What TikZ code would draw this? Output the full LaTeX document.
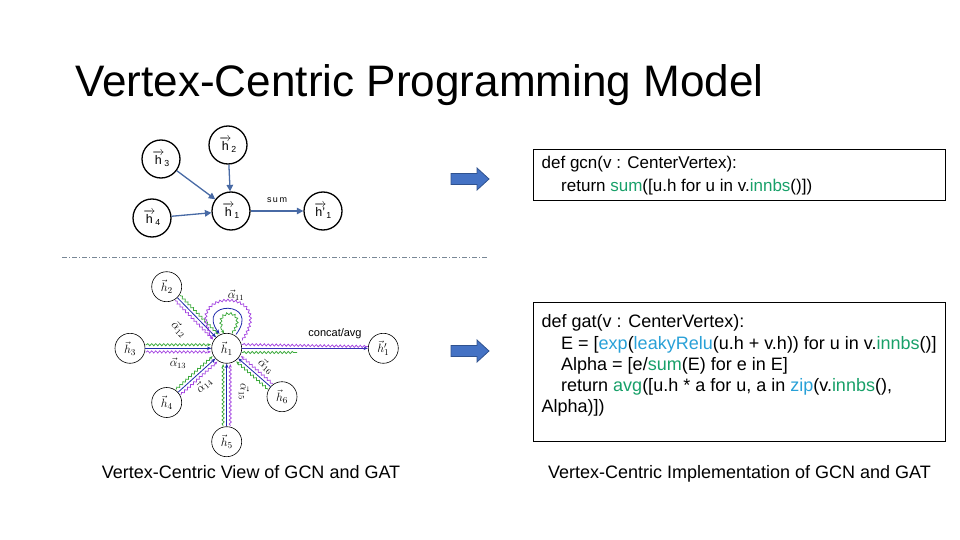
\documentclass[tikz,border=0pt]{standalone}
\usepackage{amsmath}
\usepackage[no-math]{fontspec}
\setmainfont{Liberation Sans}
\usetikzlibrary{arrows.meta,calc,decorations.pathmorphing}
\definecolor{edgeblue}{RGB}{72,106,165}
\definecolor{arrowfill}{RGB}{68,114,196}
\definecolor{arrowline}{RGB}{47,82,143}
\definecolor{gatblue}{RGB}{30,40,170}
\definecolor{gatgreen}{RGB}{60,170,60}
\definecolor{gatpurple}{RGB}{165,70,225}
\definecolor{codegreen}{RGB}{24,160,105}
\definecolor{codeblue}{RGB}{40,160,215}
\definecolor{sepgray}{RGB}{120,135,150}
\begin{document}
\begin{tikzpicture}[x=1pt,y=-1pt,
  topnode/.style={circle,draw=black,line width=1.3pt,minimum size=38pt,inner sep=0pt,font=\fontsize{12.5}{12.5}\selectfont},
  topedge/.style={draw=edgeblue,line width=1.3pt,-{Triangle[length=6.5pt,width=6.5pt]}},
  gatnode/.style={circle,draw=black,line width=0.6pt,minimum size=30pt,inner sep=0pt,font=\fontsize{13}{13}\selectfont},
  gatedge/.style={draw=gatblue,line width=0.8pt,-{Stealth[length=4.5pt,width=3.5pt]}},
  wavy/.style={line width=0.75pt,decorate,decoration={snake,amplitude=1.1pt,segment length=4pt,post length=2.5pt,pre length=1pt},-{Stealth[length=3.5pt,width=3pt]}},
  gwave/.style={wavy,draw=gatgreen},
  pwave/.style={wavy,draw=gatpurple},
  alab/.style={font=\fontsize{12}{12}\selectfont,inner sep=0pt},
  codebox/.style={draw=black,line width=0.8pt},
  codeA/.style={anchor=base west,inner sep=0pt,font=\fontsize{17}{17}\selectfont},
  codeB/.style={anchor=base west,inner sep=0pt,font=\fontsize{18}{18}\selectfont},
  blockarrow/.style={fill=arrowfill,draw=arrowline,line width=0.8pt,line join=miter}
]
\useasboundingbox (0,0) rectangle (960,540);

% title
\node[anchor=base west,inner sep=0pt,font=\fontsize{44.1}{44.1}\selectfont] (title) at (75,97) {Vertex-Centric Programming Model};

% top graph
\node[topnode] (t3) at (161,159) {$\overrightarrow{\text{h}}_{\text{3}}$};
\node[topnode] (t2) at (228,145) {$\overrightarrow{\text{h}}_{\text{2}}$};
\node[topnode] (t4) at (152,218) {$\overrightarrow{\text{h}}_{\text{4}}$};
\node[topnode] (t1) at (231,211) {$\overrightarrow{\text{h}}_{\text{1}}$};
\node[topnode] (t1p) at (323,211) {$\overrightarrow{\text{h'}}_{\text{1}}$};
\draw[topedge] (t3) -- (t1);
\draw[topedge] (t2) -- (t1);
\draw[topedge] (t4) -- (t1);
\draw[topedge] (t1) -- (t1p);
\node[font=\fontsize{9}{9}\selectfont,inner sep=0pt] (sumlab) at (277,200) {s\,u\,m};

% separator
\coordinate (sepA) at (62,257.5);
\coordinate (sepB) at (488,257.5);
\draw[sepgray,line width=0.8pt,dash pattern=on 5pt off 2pt on 1pt off 2pt] (sepA) -- (sepB);

% bottom graph (GAT)
\node[gatnode] (b1) at (226.7,348.3) {$\vec{h}_1$};
\node[gatnode] (b2) at (166.7,286.7) {$\vec{h}_2$};
\node[gatnode] (b3) at (130,348.3) {$\vec{h}_3$};
\node[gatnode] (b4) at (166.7,402.5) {$\vec{h}_4$};
\node[gatnode] (b5) at (226.7,441.7) {$\vec{h}_5$};
\node[gatnode] (b6) at (282,396.7) {$\vec{h}_6$};
\node[gatnode] (b1p) at (383.3,348.3) {$\vec{h}'_1$};

\foreach \n in {b2,b3,b4,b5,b6}{
  \coordinate (s\n) at ($(\n)!15.5pt!(b1)$);
  \coordinate (e\n) at ($(b1)!15.8pt!(\n)$);
  \draw[gwave] ($(s\n)!3.6pt!90:(e\n)$) -- ($(e\n)!3.6pt!-90:(s\n)$);
  \draw[pwave] ($(s\n)!3.6pt!-90:(e\n)$) -- ($(e\n)!3.6pt!90:(s\n)$);
  \draw[gatedge] (\n) -- (b1);
}

% self loop
\coordinate (lpA) at (213,339.5);
\coordinate (lpB) at (242,340.5);
\coordinate (lbA) at (219.5,334);
\coordinate (lbB) at (236,334.5);
\coordinate (lgA) at (224,333.5);
\coordinate (lgB) at (232,333.5);
\draw[pwave] (lpB) .. controls (278,288) and (177,288) .. (lpA);
\draw[gatedge] (lbB) .. controls (262,300) and (195,300) .. (lbA);
\draw[gwave] (lgB) .. controls (250,308) and (208,308) .. (lgA);

% output edge
\coordinate (opA) at (242,344.5);
\coordinate (opB) at (368,346.5);
\coordinate (ogA) at (242,352.5);
\coordinate (ogB) at (297,352.5);
\draw[pwave,-] (opA) -- (opB);
\draw[gwave,-] (ogA) -- (ogB);
\draw[gatedge,line width=1.4pt,draw=gatblue!80!gatpurple] (b1) -- (b1p);
\node[font=\fontsize{11}{11}\selectfont,inner sep=0pt] (catlab) at (335,334) {concat/avg};

% alpha labels
\node[alab] (a11) at (236,295) {$\vec{\alpha}_{11}$};
\node[alab,rotate=-45] (a12) at (179,329) {$\vec{\alpha}_{12}$};
\node[alab] (a13) at (178,363) {$\vec{\alpha}_{13}$};
\node[alab,rotate=42] (a14) at (204,385) {$\vec{\alpha}_{14}$};
\node[alab,rotate=-90] (a15) at (244,392) {$\vec{\alpha}_{15}$};
\node[alab,rotate=-41] (a16) at (266,366) {$\vec{\alpha}_{16}$};

% block arrows
\draw[blockarrow] (451,173.5) -- (477,173.5) -- (477,168) -- (489,179) -- (477,190) -- (477,184.5) -- (451,184.5) -- cycle;
\draw[blockarrow] (451,345.5) -- (477,345.5) -- (477,340) -- (489,351) -- (477,362) -- (477,356.5) -- (451,356.5) -- cycle;

% code box 1
\draw[codebox] (533,149) rectangle (945,200);
\node[codeA] (g1) at (541.5,169) {def gcn(v : CenterVertex):};
\node[codeA] (g2) at (561,191) {return \textcolor{codegreen}{sum}([u.h for u in v.\textcolor{codegreen}{innbs}()])};

% code box 2
\draw[codebox] (533,302) rectangle (945,441);
\node[codeB] (c1) at (541.5,327.5) {def gat(v : CenterVertex):};
\node[codeB] (c2) at (561,349) {E = [\textcolor{codeblue}{exp}(\textcolor{codeblue}{leakyRelu}(u.h + v.h)) for u in v.\textcolor{codegreen}{innbs}()]};
\node[codeB] (c3) at (561,370) {Alpha = [e/\textcolor{codegreen}{sum}(E) for e in E]};
\node[codeB] (c4) at (561,391) {return \textcolor{codegreen}{avg}([u.h * a for u, a in \textcolor{codeblue}{zip}(v.\textcolor{codegreen}{innbs}(),};
\node[codeB] (c5) at (541.5,412) {Alpha)])};

% captions
\node[anchor=base,inner sep=0pt,font=\fontsize{18}{18}\selectfont] (cap1) at (251,478) {Vertex-Centric View of GCN and GAT};
\node[anchor=base,inner sep=0pt,font=\fontsize{18}{18}\selectfont] (cap2) at (739.5,478) {Vertex-Centric Implementation of GCN and GAT};
\end{tikzpicture}
\end{document}
